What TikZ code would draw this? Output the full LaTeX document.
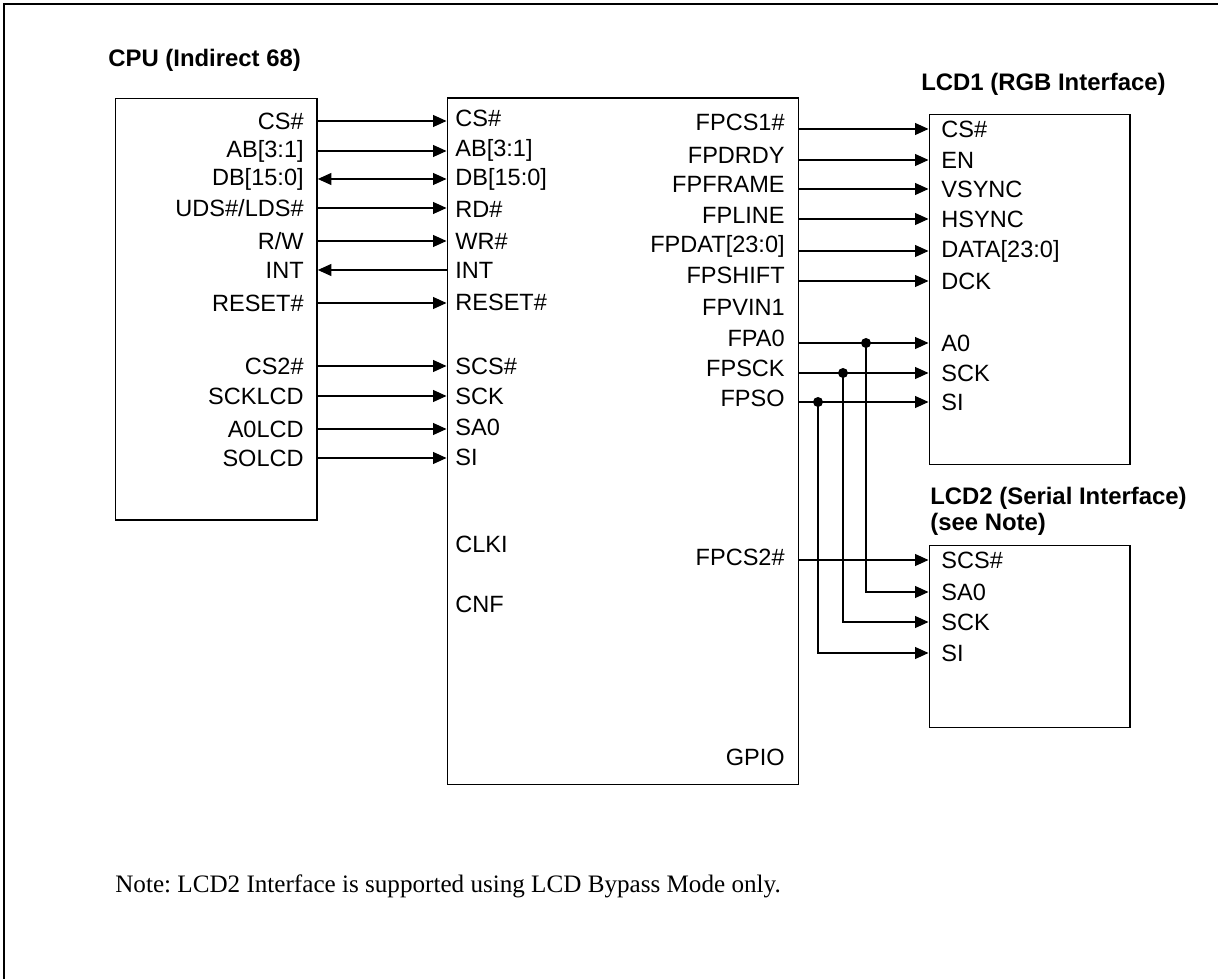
\documentclass[tikz,border=0pt]{standalone}
\usepackage{fontspec}
\setmainfont{Liberation Serif}
\setsansfont{Liberation Sans}
\usetikzlibrary{arrows.meta}
\frenchspacing

\begin{document}
\begin{tikzpicture}[x=0.02cm,y=-0.02cm,
  lbl/.style={font=\sffamily\fontsize{13.4}{16}\selectfont,inner sep=0pt},
  lft/.style={lbl,anchor=west},
  rgt/.style={lbl,anchor=east},
  ttl/.style={font=\sffamily\bfseries\fontsize{13.6}{14.7}\selectfont,inner sep=0pt,anchor=base west,align=left},
  box/.style={draw,line width=0.8pt,anchor=north west,inner sep=0pt},
  sig/.style={line width=0.6pt,-{Triangle[length=0.27cm,width=0.24cm]}},
  bidir/.style={line width=0.6pt,{Triangle[length=0.27cm,width=0.24cm]}-{Triangle[length=0.27cm,width=0.24cm]}},
  dot/.style={circle,fill,inner sep=0pt,minimum size=0.2cm}]
\fill[white] (0,0) rectangle (1220,979);
\useasboundingbox (0,0) rectangle (1220,979);
\draw[line width=0.8pt] (4,979) -- (4,4) -- (1218,4);

% blocks
\node[box,minimum width=4.03cm,minimum height=8.43cm] at (115,98) (cpu) {};
\node[box,minimum width=7.03cm,minimum height=13.73cm] at (446.5,97.5) (chip) {};
\node[box,minimum width=4.02cm,minimum height=7cm] at (928.5,114) (lcda) {};
\node[box,minimum width=4.02cm,minimum height=3.64cm] at (928.5,545) (lcdb) {};
\node[ttl] at (108,66.7) (tcpu) {CPU (Indirect 68)};
\node[ttl] at (921,90.7) (tlcda) {LCD1 (RGB Interface)};
\node[ttl] at (930,530) (tlcdb) {LCD2 (Serial Interface)\\(see Note)};

% cpu pins
\node[rgt] at (304,121) (ccs) {CS\#};
\node[rgt] at (304,151) (cab) {AB[3:1]};
\node[rgt] at (304,179) (cdb) {DB[15:0]};
\node[rgt] at (304,208) (cuds) {UDS\#/LDS\#};
\node[rgt] at (304,241) (crw) {R/W};
\node[rgt] at (304,270) (cint) {INT};
\node[rgt] at (304,303) (crst) {RESET\#};
\node[rgt] at (304,366) (ccs2) {CS2\#};
\node[rgt] at (304,396) (csck) {SCKLCD};
\node[rgt] at (304,429) (ca0) {A0LCD};
\node[rgt] at (304,458) (cso) {SOLCD};

% chip pins, left
\node[lft] at (455,118) (ics) {CS\#};
\node[lft] at (455,150) (iab) {AB[3:1]};
\node[lft] at (455,179) (idb) {DB[15:0]};
\node[lft] at (455,209) (ird) {RD\#};
\node[lft] at (455,241) (iwr) {WR\#};
\node[lft] at (455,270) (iint) {INT};
\node[lft] at (455,302) (irst) {RESET\#};
\node[lft] at (455,366) (iscs) {SCS\#};
\node[lft] at (455,396) (isck) {SCK};
\node[lft] at (455,427) (isa0) {SA0};
\node[lft] at (455,457) (isi) {SI};
\node[lft] at (455,544) (iclk) {CLKI};
\node[lft] at (455,604) (icnf) {CNF};

% chip pins, right
\node[rgt] at (785,122) (ocs1) {FPCS1\#};
\node[rgt] at (785,155) (ordy) {FPDRDY};
\node[rgt] at (785,184) (ofrm) {FPFRAME};
\node[rgt] at (785,215) (olin) {FPLINE};
\node[rgt] at (785,246) (odat) {FPDAT[23:0]};
\node[rgt] at (785,275) (oshf) {FPSHIFT};
\node[rgt] at (785,307) (ovin) {FPVIN1};
\node[rgt] at (785,338) (oa0) {FPA0};
\node[rgt] at (785,368) (osck) {FPSCK};
\node[rgt] at (785,398) (oso) {FPSO};
\node[rgt] at (785,557) (ocs2) {FPCS2\#};
\node[rgt] at (785,757) (ogpio) {GPIO};

% lcd pins
\node[lft] at (941,129) (acs) {CS\#};
\node[lft] at (941,160) (aen) {EN};
\node[lft] at (941,189) (avs) {VSYNC};
\node[lft] at (941,219) (ahs) {HSYNC};
\node[lft] at (941,251) (adat) {DATA[23:0]};
\node[lft] at (941,281) (adck) {DCK};
\node[lft] at (941,343) (aa0) {A0};
\node[lft] at (941,373) (asck) {SCK};
\node[lft] at (941,402) (asi) {SI};
\node[lft] at (941,560) (bscs) {SCS\#};
\node[lft] at (941,592) (bsa0) {SA0};
\node[lft] at (941,622) (bsck) {SCK};
\node[lft] at (941,653) (bsi) {SI};

% cpu to chip
\draw[sig] (cpu.east |- ccs) -- (chip.west |- ccs);
\draw[sig] (cpu.east |- cab) -- (chip.west |- cab);
\draw[bidir] (cpu.east |- cdb) -- (chip.west |- cdb);
\draw[sig] (cpu.east |- cuds) -- (chip.west |- cuds);
\draw[sig] (cpu.east |- crw) -- (chip.west |- crw);
\draw[sig] (chip.west |- cint) -- (cpu.east |- cint);
\draw[sig] (cpu.east |- crst) -- (chip.west |- crst);
\draw[sig] (cpu.east |- ccs2) -- (chip.west |- ccs2);
\draw[sig] (cpu.east |- csck) -- (chip.west |- csck);
\draw[sig] (cpu.east |- ca0) -- (chip.west |- ca0);
\draw[sig] (cpu.east |- cso) -- (chip.west |- cso);

% chip to panels
\draw[sig] (chip.east |- acs) -- (lcda.west |- acs);
\draw[sig] (chip.east |- aen) -- (lcda.west |- aen);
\draw[sig] (chip.east |- avs) -- (lcda.west |- avs);
\draw[sig] (chip.east |- ahs) -- (lcda.west |- ahs);
\draw[sig] (chip.east |- adat) -- (lcda.west |- adat);
\draw[sig] (chip.east |- adck) -- (lcda.west |- adck);
\draw[sig] (chip.east |- aa0) -- (lcda.west |- aa0);
\draw[sig] (chip.east |- asck) -- (lcda.west |- asck);
\draw[sig] (chip.east |- asi) -- (lcda.west |- asi);
\draw[sig] (chip.east |- bscs) -- (lcdb.west |- bscs);
\node[dot] at (866,343) (ta0) {};
\node[dot] at (843,373) (tsck) {};
\node[dot] at (818,402) (tsi) {};
\draw[sig] (ta0.center) |- (lcdb.west |- bsa0);
\draw[sig] (tsck.center) |- (lcdb.west |- bsck);
\draw[sig] (tsi.center) |- (lcdb.west |- bsi);

\node[anchor=base west,inner sep=0pt,font=\rmfamily\fontsize{14.3}{17}\selectfont] at (115,892) (note)
  {Note: LCD2 Interface is supported using LCD Bypass Mode only.};
\end{tikzpicture}
\end{document}
